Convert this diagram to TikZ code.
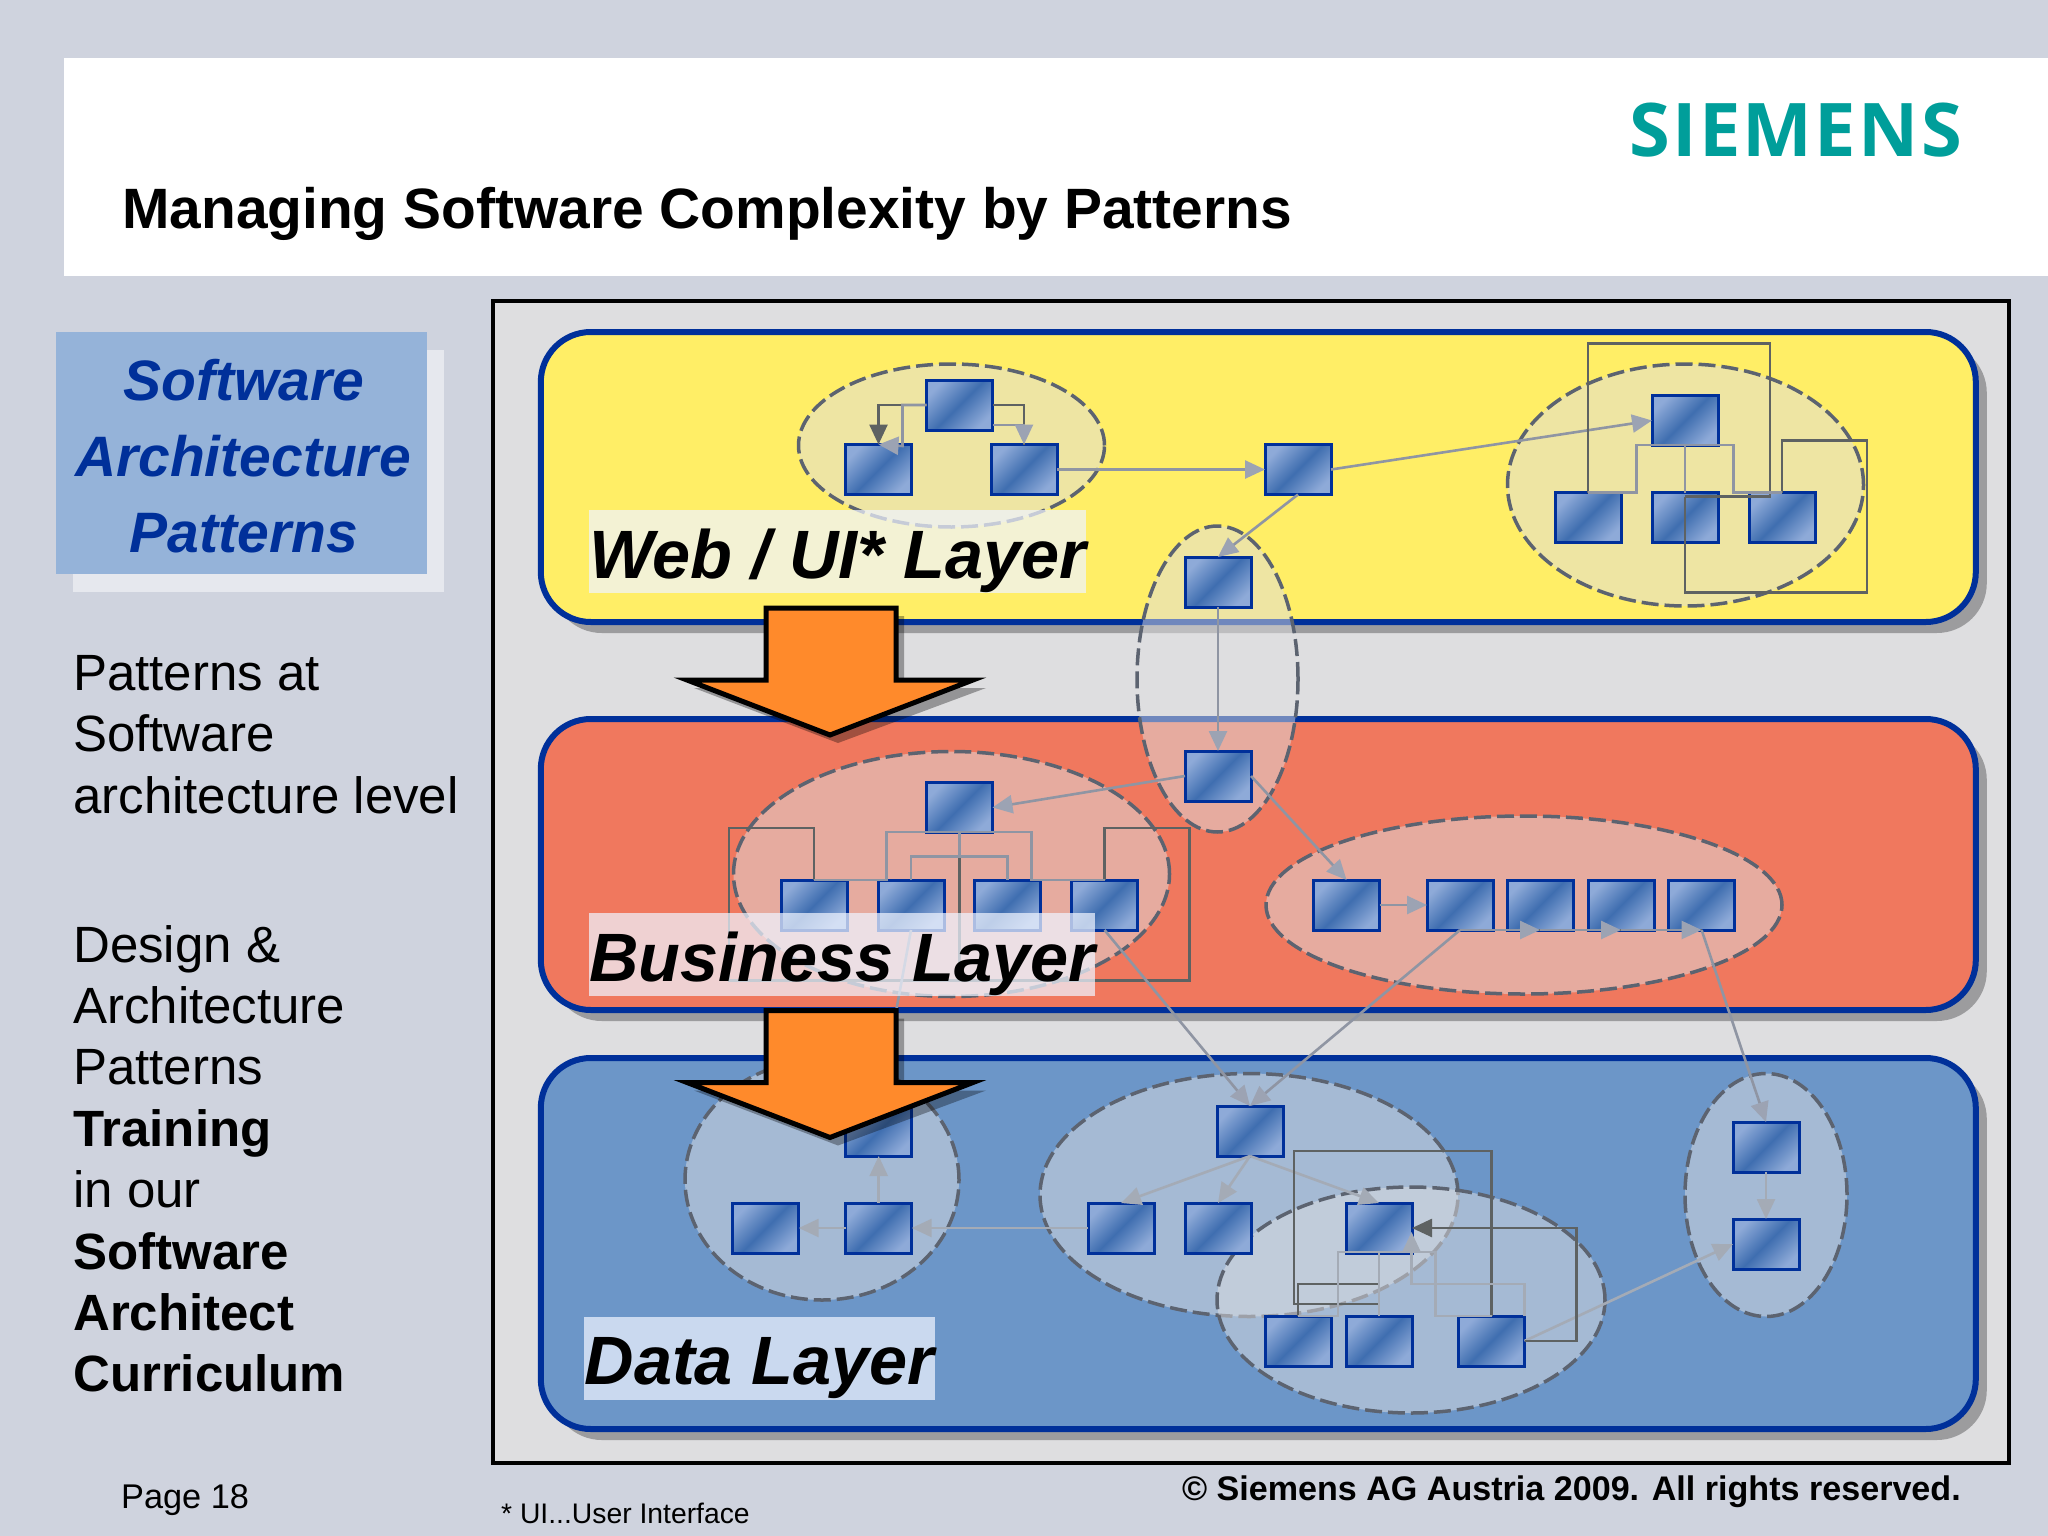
\documentclass[tikz,border=0pt]{standalone}
\usepackage{fontspec}
\setmainfont{Liberation Sans}
\newfontfamily\logofont[LetterSpace=3]{Open Sans}
\usetikzlibrary{shapes.geometric,arrows.meta,shadows}
\definecolor{pagebg}{HTML}{CFD3DE}
\definecolor{framebg}{HTML}{DEDEE0}
\definecolor{sieteal}{HTML}{009E9A}
\definecolor{navy}{HTML}{00309A}
\definecolor{layY}{HTML}{FFEE66}
\definecolor{layR}{HTML}{F0785E}
\definecolor{layB}{HTML}{6C96C8}
\definecolor{shadowgray}{HTML}{9C9C9E}
\definecolor{linkgray}{HTML}{8F95A3}
\definecolor{headgray}{HTML}{9CA3B3}
\definecolor{linkpale}{HTML}{A4ABB6}
\definecolor{darkline}{HTML}{5E6262}
\definecolor{dashgray}{HTML}{5C6370}
\definecolor{orangearrow}{HTML}{FF8A2B}
\definecolor{titlebox}{HTML}{95B3D9}
\definecolor{titleshadow}{HTML}{E6E8EE}
\definecolor{boxlight}{HTML}{8EAAD8}
\definecolor{boxmid}{HTML}{3F6EB0}
\definecolor{labelfill}{HTML}{EFF4FF}
\tikzset{
  layer/.style={draw=navy,line width=6pt,rounded corners=50pt,inner sep=0pt,outer sep=0pt,minimum width=1435pt,
    drop shadow={shadow xshift=11pt,shadow yshift=-11pt,fill=shadowgray,opacity=1}},
  bluebox/.style={rectangle,draw=navy,line width=3pt,minimum width=66pt,minimum height=50pt,inner sep=0pt,outer sep=0pt,
    left color=boxlight,right color=boxlight,middle color=boxmid,shading angle=45},
  group/.style={ellipse,draw=dashgray,line width=3.5pt,dash pattern=on 17pt off 6pt,fill=framebg,fill opacity=.5,inner sep=0pt,outer sep=0pt},
  lt/.style={draw=linkgray,line width=2.6pt,line join=miter},
  ltp/.style={draw=linkpale,line width=2.6pt},
  dk/.style={draw=darkline,line width=2.6pt},
  head/.style={-{Triangle[length=20pt,width=18pt,color=headgray]}},
  headp/.style={-{Triangle[length=20pt,width=18pt,color=linkpale]}},
  headd/.style={-{Triangle[length=20pt,width=18pt,color=darkline]}},
  layerlabel/.style={fill=labelfill,fill opacity=.72,text opacity=1,inner sep=0pt,text height=68pt,text depth=15pt,
    font=\fontsize{68.4pt}{80pt}\selectfont\bfseries\itshape},
  downarrow/.style={draw=black,line width=5pt,fill=orangearrow,line join=miter,miter limit=12},
  downshadow/.style={fill=black,opacity=.33},
  sidetext/.style={anchor=north west,align=left,inner sep=0pt,font=\fontsize{51pt}{61.4pt}\selectfont},
}
\begin{document}
\begin{tikzpicture}[x=1pt,y=-1pt]
\useasboundingbox (0,0) rectangle (2048,1536);
\fill[pagebg] (0,0) rectangle (2048,1536);
\node[fill=white,minimum width=1984pt,minimum height=218pt,inner sep=0pt,anchor=north west] (banner) at (64,58) {};
\node[anchor=base west,inner sep=0pt,font=\fontsize{56.9pt}{60pt}\selectfont\bfseries] (title) at (122,228) {Managing Software Complexity by Patterns};
\node[anchor=base east,inner sep=0pt,text=sieteal,font=\fontsize{74pt}{80pt}\selectfont\logofont\bfseries] (logo) at (1962,157) {SIEMENS};
% left column
\node[fill=titleshadow,minimum width=371pt,minimum height=242pt,inner sep=0pt,anchor=north west] (tshadow) at (73,350) {};
\node[fill=titlebox,minimum width=371pt,minimum height=242pt,inner sep=0pt,anchor=north west] (tbox) at (56,332) {};
\node[anchor=base,inner sep=0pt,text=navy,font=\fontsize{57pt}{60pt}\selectfont\bfseries\itshape] (t1) at (244,400) {Software};
\node[anchor=base,inner sep=0pt,text=navy,font=\fontsize{57pt}{60pt}\selectfont\bfseries\itshape] (t2) at (243,476) {Architecture};
\node[anchor=base,inner sep=0pt,text=navy,font=\fontsize{57pt}{60pt}\selectfont\bfseries\itshape] (t3) at (244,552) {Patterns};
\node[sidetext] (s1) at (73,655) {Patterns at\\Software\\architecture level};
\node[sidetext] (s2) at (73,925) {Design \&\\Architecture\\Patterns\\\textbf{Training}\\in our\\\textbf{Software}\\\textbf{Architect}\\\textbf{Curriculum}};
\node[anchor=base west,inner sep=0pt,font=\fontsize{34.3pt}{40pt}\selectfont] (page) at (121,1508) {Page 18};
\node[anchor=base west,inner sep=0pt,font=\fontsize{28.3pt}{32pt}\selectfont] (foot) at (501,1523) {* UI...User Interface};
\node[anchor=base east,inner sep=0pt,font=\fontsize{34.1pt}{40pt}\selectfont\bfseries] (copy) at (1961,1500) {© Siemens AG Austria 2009. All rights reserved.};
% frame and layers
\node[draw=black,line width=4pt,fill=framebg,minimum width=1516pt,minimum height=1162pt,inner sep=0pt,anchor=north west] (frame) at (491,299) {};
\node[layer,fill=layY,minimum height=290pt] (yellow) at (1258.3,477) {};
\node[layer,fill=layR,minimum height=291pt] (red) at (1258.3,864.5) {};
\node[layer,fill=layB,minimum height=371pt] (blue) at (1258.3,1243.5) {};
% groups
\node[group,minimum width=306pt,minimum height=163pt] (g1) at (951.5,445.5) {};
\node[group,minimum width=356pt,minimum height=242pt] (g2) at (1685.5,485) {};
\node[group,minimum width=161pt,minimum height=306pt] (g3) at (1217.5,679) {};
\node[group,minimum width=436pt,minimum height=245pt] (g4) at (951.5,874) {};
\node[group,minimum width=516pt,minimum height=178pt] (g5) at (1524,905) {};
\node[group,minimum width=274pt,minimum height=240pt] (g6) at (822,1180) {};
\node[group,minimum width=418pt,minimum height=243pt] (g7) at (1249,1195) {};
\node[group,minimum width=388pt,minimum height=226pt] (g8) at (1411,1300) {};
\node[group,minimum width=162pt,minimum height=243pt] (g9) at (1766,1195) {};
% boxes
\begin{scope}[every node/.style={bluebox}]
\node (ya) at (959.5,405) {};
\node (yb) at (878.5,469.5) {};
\node (yc) at (1024,469.5) {};
\node (yd) at (1298,469.5) {};
\node (ye) at (1218,582) {};
\node (yf) at (1685,420.5) {};
\node (yg) at (1588,517.5) {};
\node (yh) at (1685,517.5) {};
\node (yi) at (1782,517.5) {};
\node (ba) at (1218,776) {};
\node (ra) at (959.5,807.5) {};
\node (rb) at (814,905) {};
\node (rc) at (911,905) {};
\node (rd) at (1007.7,905) {};
\node (re) at (1104.5,905) {};
\node (rf) at (1346.6,905) {};
\node (rg) at (1460,905) {};
\node (rh) at (1540,905) {};
\node (ri) at (1621,905) {};
\node (rj) at (1701.6,905) {};
\node (da) at (1250,1131) {};
\node (db) at (1121,1228) {};
\node (dc) at (1218,1228) {};
\node (dd) at (1379,1228) {};
\node (de) at (1298,1341) {};
\node (df) at (1379,1341) {};
\node (dg) at (1491.5,1341) {};
\node (ka) at (1766,1147) {};
\node (kb) at (1766,1244) {};
\node (la) at (878.7,1131) {};
\node (lb) at (765.7,1228) {};
\node (lc) at (878.7,1228) {};
\end{scope}
% connectors: yellow layer
\draw[dk,headd] (ya.west) -| (yb.north);
\draw[lt,head] (ya.west) -- ++(-24,0) -- ++(0,41) -- (yb.north);
\draw[dk] (ya.east) -| (yc.north);
\draw[lt,head] (ya.east) ++(0,20) -| (yc.north);
\draw[lt,head] (yc.east) -- (yd.west);
\draw[lt,head] (yd.east) -- (yf.west);
\draw[lt,head] (yd.south) -- (ye.north);
\draw[lt,head] (ye.south) -- (ba.north);
\draw[dk] (yg.north) -- ++(0,-149) -- ++(182,0) -- ++(0,153) -- ++(-85,0);
\draw[dk] (yi.north) -- ++(0,-52) -- ++(85,0) -- ++(0,152) -- ++(-182,0) -- ++(0,-96);
\draw[lt] (yg.north) -- ++(48.5,0) -- ++(0,-47.5) -- ++(97,0) -- ++(0,47.5) -- (yi.north);
\draw[lt] (yf.south) -- (yh.north);
% connectors: red layer
\draw[lt,head] (ba.west) -- (ra.east);
\draw[lt,head] (ba.east) -- (rf.north);
\draw[dk] (rb.north) -- ++(0,-52) -- ++(-85,0) -- ++(0,152.7) -- ++(230.5,0);
\draw[dk] (re.north) -- ++(0,-52) -- ++(85,0) -- ++(0,152.7) -- ++(-230,0) -- ++(0,-124);
\draw[lt] (rb.north) -- ++(72.5,0) -- ++(0,-48) -- ++(145,0) -- ++(0,48) -- (re.north);
\draw[lt] (ra.south) -- ++(0,25);
\draw[lt] (rc.north) -- ++(0,-23.5) -| (rd.north);
\draw[lt,head] (rf.east) -- (rg.west);
\draw[dk] (rg.south) -- (rj.south);
\draw[lt,head] (rg.south) -- (rh.south);
\draw[lt,head] (rh.south) -- (ri.south);
\draw[lt,head] (ri.south) -- (rj.south);
\draw[lt,head] (re.south) -- (da.north);
\draw[lt,head] (rg.south) -- (da.north);
\draw[lt,head] (rj.south) -- (ka.north);
\draw[lt,head] (rc.south) -- (la.north);
% connectors: blue layer
\draw[ltp,headp] (ka.south) -- (kb.north);
\draw[ltp,headp] (dg.east) -- (kb.west);
\draw[ltp,headp] (da.south) -- (db.north);
\draw[ltp,headp] (da.south) -- (dc.north);
\draw[ltp,headp] (da.south) -- (dd.north);
\draw[ltp,headp] (db.west) -- (lc.east);
\draw[ltp,headp] (lc.west) -- (lb.east);
\draw[ltp,headp] (lc.north) -- (la.south);
\draw[dk] (dg.north) -- ++(0,-165) -- ++(-197.5,0) -- ++(0,153) -- ++(85,0) -- ++(0,-20) -- ++(-81,0) -- (de.north);
\draw[dk,headd] (dg.east) -- ++(52,0) |- (dd.east);
\draw[ltp] (dd.south) -- (df.north);
\draw[ltp] (de.north) -- ++(40,0) -- ++(0,-64) -- ++(97.4,0) -- ++(0,64) -- (dg.north);
\draw[ltp,headp] (dg.north east) -- ++(0,-32) -- ++(-113,0) -- ++(0,-52);
% layer labels
\node[layerlabel,minimum width=497pt] (lw) at (837.5,551.5) {Web / UI* Layer};
\node[layerlabel,minimum width=506pt] (lr) at (842,954.5) {Business Layer};
\node[layerlabel,minimum width=351pt] (ld) at (759.5,1358) {Data Layer};
% orange arrows
\foreach \dy in {0,402.5}{
  \begin{scope}[yshift=-\dy pt]
  \fill[downshadow] (775,616) -- (904,616) -- (904,688) -- (986,688) -- (838,743) -- (694,688) -- (775,688) -- cycle;
  \draw[downarrow] (766,608) -- (896,608) -- (896,680) -- (973,680) -- (830,735) -- (687,680) -- (766,680) -- cycle;
  \end{scope}
}
\end{tikzpicture}
\end{document}
